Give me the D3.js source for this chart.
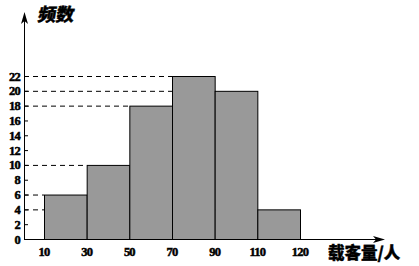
<!DOCTYPE html>
<html>
<head>
<meta charset="utf-8">
<script src="https://cdn.jsdelivr.net/npm/d3@7"></script>
<style>
  html, body { margin: 0; padding: 0; background: #fff; }
  svg { display: block; }
  .num { font-family: "Liberation Serif", "DejaVu Serif", serif; font-weight: bold; font-size: 12.5px; letter-spacing: -0.8px; stroke: #000; stroke-width: 0.5px; }
  .cjk { font-family: "Noto Sans CJK SC", sans-serif; font-weight: 900; stroke: #000; stroke-width: 0.4px; }
</style>
</head>
<body>
<div id="chart"></div>
<script>
/* histogram: 载客量 vs 频数 */

const edgeLabels = ['10', '30', '50', '70', '90', '110', '120'];
const binCounts  = [6, 10, 18, 22, 20, 4];
const yTicks     = [0, 2, 4, 6, 8, 10, 12, 14, 16, 18, 20, 22];

const W = 419, H = 266;
const X0 = 24, Y0 = 239;

const svg = d3.select('#chart').append('svg')
  .attr('width', W).attr('height', H);

// ── scales ─────────────────────────────────────────────
const x = d3.scalePoint().domain(edgeLabels).range([44, 300]);
const y = d3.scaleLinear().domain([0, 22]).range([Y0, 76]);

// ── dashed guide lines (axis → left edge of the bar) ──
const bars = binCounts.map((v, i) => ({ v, x0: x(edgeLabels[i]), x1: x(edgeLabels[i + 1]) }));

svg.append('g').selectAll('line').data(bars).enter().append('line')
  .attr('x1', X0).attr('x2', d => d.x0)
  .attr('y1', d => y(d.v) + 0.5).attr('y2', d => y(d.v) + 0.5)
  .attr('stroke', '#000').attr('stroke-width', 1)
  .attr('stroke-dasharray', '5,4');

// ── bars ───────────────────────────────────────────────
svg.append('g').selectAll('rect').data(bars).enter().append('rect')
  .attr('x', d => d.x0 + 0.5)
  .attr('y', d => y(d.v) + 0.5)
  .attr('width', d => d.x1 - d.x0)
  .attr('height', d => Y0 - y(d.v))
  .attr('fill', '#999999')
  .attr('stroke', '#000').attr('stroke-width', 1);

// ── axes ───────────────────────────────────────────────
const axisG = svg.append('g').attr('stroke', '#000').attr('stroke-width', 1);
axisG.append('line').attr('x1', X0 + 0.5).attr('x2', X0 + 0.5).attr('y1', Y0 + 0.5).attr('y2', 16);
axisG.append('line').attr('x1', X0).attr('x2', 380).attr('y1', Y0 + 0.5).attr('y2', Y0 + 0.5);

svg.append('path')
  .attr('d', `M${X0 + 0.5},12 L${X0 - 3},24 L${X0 + 0.5},21 L${X0 + 4},24 Z`)
  .attr('fill', '#000');
svg.append('path')
  .attr('d', `M385,${Y0 + 0.5} L373,${Y0 - 3} L376,${Y0 + 0.5} L373,${Y0 + 4} Z`)
  .attr('fill', '#000');

// y ticks (inner)
svg.append('g').selectAll('line').data(yTicks).enter().append('line')
  .attr('x1', X0).attr('x2', X0 + 4)
  .attr('y1', d => y(d) + 0.5).attr('y2', d => y(d) + 0.5)
  .attr('stroke', '#000');

svg.append('g').selectAll('text').data(yTicks).enter().append('text')
  .attr('class', 'num')
  .attr('x', 20).attr('y', d => y(d) + 4.5)
  .attr('text-anchor', 'end')
  .text(d => d);

svg.append('g').selectAll('text').data(edgeLabels).enter().append('text')
  .attr('class', 'num')
  .attr('x', d => x(d)).attr('y', 256)
  .attr('text-anchor', 'middle')
  .text(d => d);

// ── axis titles ────────────────────────────────────────
svg.append('text').attr('class', 'cjk')
  .attr('x', 37).attr('y', 21).attr('font-size', 18)
  .attr('transform', 'skewX(-10) translate(4,0)')
  .text('频数');

svg.append('text').attr('class', 'cjk')
  .attr('x', 328).attr('y', 259).attr('font-size', 16.5)
  .text('载客量/人');
</script>
</body>
</html>
